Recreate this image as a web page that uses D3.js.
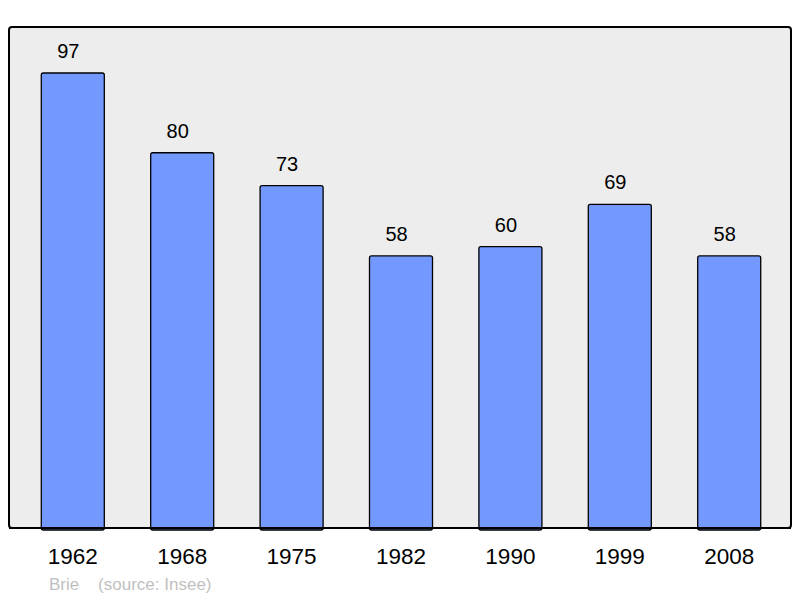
<!DOCTYPE html>
<html><head><meta charset="utf-8">
<script src="https://cdn.jsdelivr.net/npm/d3@7"></script>
<style>body{margin:0;background:#fff}svg{display:block}</style>
</head><body>
<script>
const years = ["1962","1968","1975","1982","1990","1999","2008"];
const population = [97,80,73,58,60,69,58];
const footer = "Brie    (source: Insee)";

(function(){
const W=800,H=598;
const svg=d3.select("body").append("svg").attr("width",W).attr("height",H);
const pl=9,pr=791,pt=27,pb=528;
svg.append("rect").attr("x",pl).attr("y",pt).attr("width",pr-pl).attr("height",pb-pt)
  .attr("rx",3).attr("fill","#ededed").attr("stroke","#000").attr("stroke-width",2);

const x=d3.scaleBand().domain(years).range([pl+1,pr+1]).paddingInner(0.424).paddingOuter(0.286);
const y=d3.scaleLinear().domain([0,97]).range([pb,73]);

svg.selectAll("rect.bar").data(population).join("rect").attr("class","bar")
  .attr("x",(d,i)=>x(years[i])).attr("width",x.bandwidth())
  .attr("y",d=>y(d)).attr("height",d=>pb-y(d)+2)
  .attr("rx",2).attr("fill","#7399ff").attr("stroke","#000").attr("stroke-width",1.3);

svg.append("line").attr("x1",pl).attr("x2",pr).attr("y1",pb).attr("y2",pb)
  .attr("stroke","#000").attr("stroke-width",2);

svg.selectAll("text.val").data(population).join("text").attr("class","val")
  .attr("x",(d,i)=>x(years[i])+x.bandwidth()/2-4.5).attr("y",d=>y(d)-15)
  .attr("text-anchor","middle").attr("font-family","Liberation Sans, Arial, sans-serif")
  .attr("font-size",20).attr("fill","#000").text(d=>d);

svg.selectAll("text.yr").data(years).join("text").attr("class","yr")
  .attr("x",d=>x(d)+x.bandwidth()/2).attr("y",564)
  .attr("text-anchor","middle").attr("font-family","Liberation Sans, Arial, sans-serif")
  .attr("font-size",22.5).attr("fill","#000").text(d=>d);

svg.append("text").attr("x",49).attr("y",590).style("white-space","pre")
  .attr("font-family","Liberation Sans, Arial, sans-serif").attr("font-size",17).attr("fill","#bfbfbf").text(footer);
})();
</script>
</body></html>
